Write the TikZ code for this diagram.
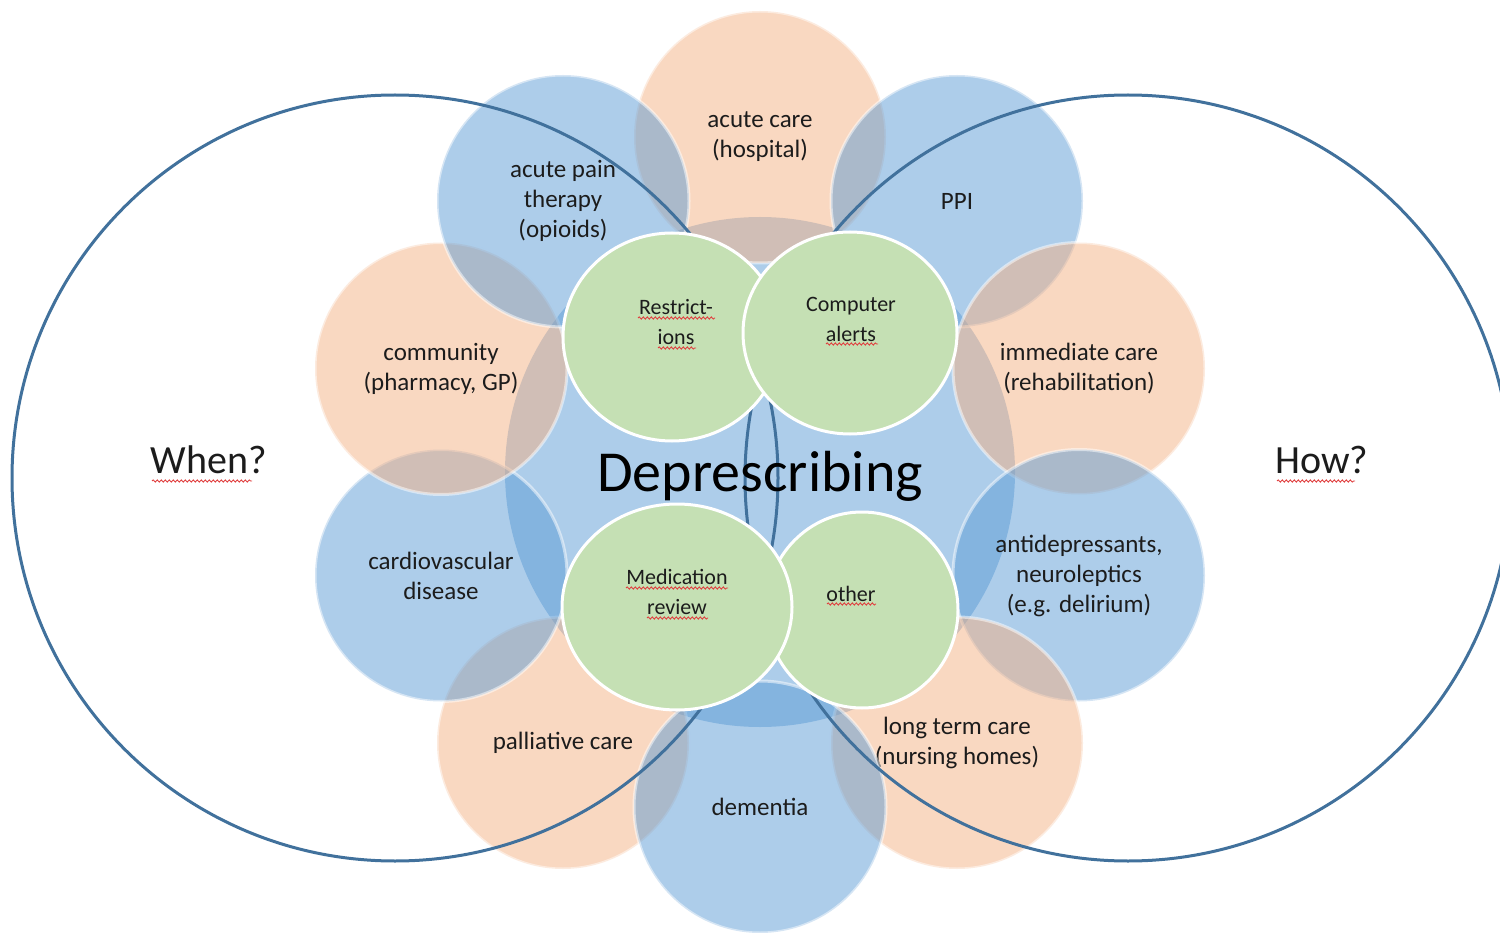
\documentclass[tikz,border=0pt]{standalone}
\usepackage{fontspec}
\setmainfont{Carlito}
\usetikzlibrary{shapes.geometric,decorations.pathmorphing}
\definecolor{ringblue}{HTML}{5B9BD5}
\definecolor{ringpeach}{HTML}{F4B183}
\definecolor{innergreen}{HTML}{C5E0B4}
\definecolor{outlineblue}{HTML}{41719C}
\definecolor{txt}{HTML}{1C1C1C}
\definecolor{spell}{HTML}{E04040}
\tikzset{
  ringball/.style={circle, minimum size=252pt, inner sep=0pt, draw=white, line width=3pt,
    opacity=0.5, text opacity=1, text=txt, align=center,
    font=\fontsize{25}{30}\selectfont},
  blueball/.style={ringball, fill=ringblue},
  peachball/.style={ringball, fill=ringpeach},
  hubball/.style={circle, minimum size=510pt, inner sep=0pt, fill=ringblue, opacity=0.5},
  bigring/.style={circle, minimum size=766pt, inner sep=0pt, draw=outlineblue, line width=3pt},
  greenball/.style={ellipse, inner sep=0pt, fill=innergreen, draw=white, line width=3pt},
  greenlabel/.style={align=center, text=txt, font=\fontsize{22}{30}\selectfont},
  sidelabel/.style={anchor=base, text=txt, font=\fontsize{40}{48}\selectfont},
  spellline/.style={draw=spell, line width=0.9pt, decorate,
    decoration={snake, amplitude=1.1pt, segment length=4pt}}
}
\begin{document}
\begin{tikzpicture}[x=1pt,y=-1pt]
\useasboundingbox (0,0) rectangle (1500,933);
\clip (0,0) rectangle (1500,933);
% hub
\node[hubball] (hub) at (760,472) {};
% ring circles, bottom to top
\node[peachball] (acute) at (760,137) {acute care\\(hospital)};
\node[blueball] (ppi) at (957,201) {PPI};
\node[peachball] (immediate) at (1079,368.5) {immediate care\\(rehabilitation)};
\node[blueball] (antidep) at (1079,575.5) {antidepressants,\\neuroleptics\\(e.g. delirium)};
\node[peachball] (longterm) at (957,743) {long term care\\(nursing homes)};
\node[peachball] (palliative) at (563,743) {palliative care};
\node[blueball] (dementia) at (760,807) {dementia};
\node[blueball] (cardio) at (441,575.5) {cardiovascular\\disease};
\node[peachball] (community) at (441,368.5) {community\\(pharmacy, GP)};
\node[blueball] (pain) at (563,201) {acute pain\\therapy\\(opioids)};
% big outline circles
\node[bigring] (whenring) at (395,478) {};
\node[bigring] (howring) at (1128,478) {};
% green circles
\node[greenball, minimum width=218pt, minimum height=208pt] (restr) at (672,337) {};
\node[greenball, minimum width=214pt, minimum height=202pt] (alerts) at (850,333) {};
\node[greenball, minimum width=192pt, minimum height=196pt] (other) at (862,610) {};
\node[greenball, minimum width=230pt, minimum height=206pt] (medrev) at (677,607) {};
\node[greenlabel] (restrtext) at (676,322) {Restrict-\\ions};
\node[greenlabel] (alertstext) at (851,319) {Computer\\alerts};
\node[greenlabel] (medrevtext) at (677,592) {Medication\\review};
\node[greenlabel] (othertext) at (851,594) {other};
% centre title
\node[anchor=base, text=black, font=\fontsize{58}{64}\selectfont] (title) at (760,491) {Deprescribing};
% side labels
\node[sidelabel] (when) at (209,473) {When?};
\node[sidelabel] (how) at (1322,473) {How?};
% spelling underlines
\draw[spellline] (152,481) -- (252,481);
\draw[spellline] (1277,481) -- (1355,481);
\draw[spellline] (638,318) -- (715,318);
\draw[spellline] (658,348) -- (696,348);
\draw[spellline] (826,344) -- (878,344);
\draw[spellline] (626,588) -- (728,588);
\draw[spellline] (647,618) -- (708,618);
\draw[spellline] (827,604) -- (876,604);
\end{tikzpicture}
\end{document}
